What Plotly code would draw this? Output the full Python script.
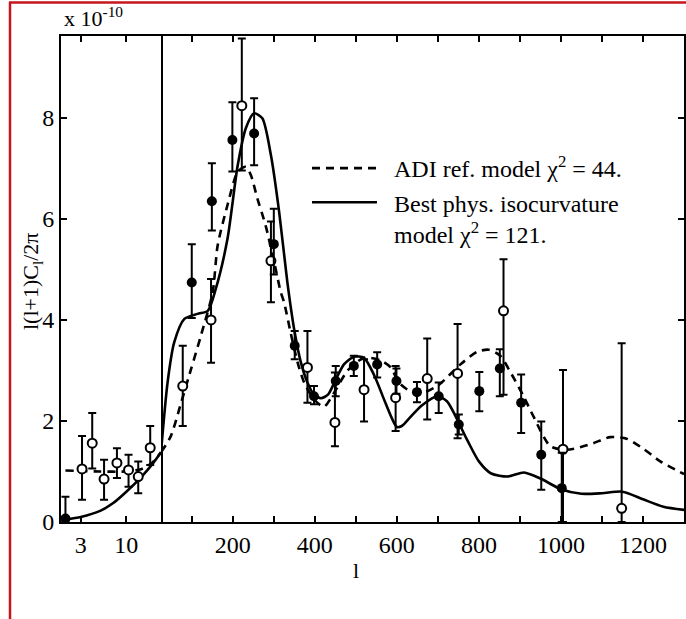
import plotly.graph_objects as go

# ---------------- data ----------------
BREAK_L = 25  # split between logarithmic and linear l axis

# best physical isocurvature model (solid)
SOLID_L = [2, 3, 5, 7, 10, 15, 20, 25, 41, 57, 82, 114, 139, 158, 187, 212, 232, 252,
           272, 293, 313, 333, 351, 366, 382, 398, 415, 432, 450, 471, 495, 520, 545, 570,
           588, 600, 612, 630, 660, 698, 722, 771, 800, 830, 870, 910, 950, 1000, 1050,
           1100, 1150, 1200, 1250, 1300]
SOLID_V = [0.05, 0.1, 0.22, 0.37, 0.6, 0.9, 1.15, 1.38, 2.76, 3.55, 4.02, 4.12, 4.18,
           4.6, 5.6, 7.06, 7.8, 8.09, 7.99, 7.26, 6.14, 4.75, 3.75, 3.16, 2.76, 2.52,
           2.45, 2.52, 2.8, 3.12, 3.27, 3.25, 2.9, 2.4, 2.05, 1.88, 1.9, 2.05, 2.3, 2.49,
           2.39, 1.63, 1.2, 0.96, 0.9, 0.98, 0.86, 0.65, 0.56, 0.57, 0.6, 0.45, 0.3, 0.24]

# adiabatic reference model (dashed)
DASH_L = [2, 5, 10, 15, 20, 25, 49, 74, 98, 122, 151, 163, 187, 212, 232, 244, 260, 280,
          301, 317, 325, 341, 358, 374, 398, 422, 450, 480, 520, 560, 585, 605, 630, 660,
          700, 755, 796, 824, 852, 880, 909, 933, 974, 1014, 1047, 1079, 1120, 1160,
          1201, 1242, 1300]
DASH_V = [1.02, 1.0, 1.0, 1.05, 1.18, 1.38, 1.7, 2.36, 3.02, 3.68, 4.55, 5.47, 6.27, 6.93,
          7.03, 6.87, 6.4, 5.87, 5.14, 4.55, 4.35, 3.75, 3.16, 2.76, 2.43, 2.28, 2.6, 3.0,
          3.25, 3.2, 3.06, 2.76, 2.6, 2.55, 2.7, 3.12, 3.37, 3.41, 3.29, 2.92, 2.49, 2.09,
          1.5, 1.43, 1.48, 1.56, 1.68, 1.65, 1.45, 1.2, 0.95]

# measurements, filled symbols
FILLED_L = [2, 100, 149, 199, 252, 300, 351, 398, 451, 495, 552, 599, 649, 702, 751, 801,
            851, 903, 952, 1002]
FILLED_V = [0.07, 4.74, 6.35, 7.56, 7.69, 5.5, 3.49, 2.49, 2.79, 3.09, 3.12, 2.79, 2.57,
            2.49, 1.93, 2.59, 3.04, 2.36, 1.33, 0.67]
FILLED_EP = [0.43, 0.76, 0.75, 0.75, 0.7, 0.7, 0.29, 0.2, 0.3, 0.2, 0.24, 0.25, 0.2,
             0.27, 0.2, 0.38, 0.38, 0.56, 0.66, 0.7]
FILLED_EM = [0.07, 0.7, 0.58, 0.62, 0.63, 0.6, 0.27, 0.16, 0.3, 0.2, 0.26, 0.25, 0.2,
             0.33, 0.2, 0.4, 0.55, 0.6, 0.69, 0.67]

# measurements, open symbols
OPEN_L = [3.1, 4.06, 5.55, 7.8, 10.6, 13.7, 18.8, 78, 147, 222, 293, 382, 449, 520, 597,
          674, 748, 860, 1005, 1148]
OPEN_V = [1.05, 1.56, 0.85, 1.17, 1.03, 0.9, 1.47, 2.69, 4.0, 8.24, 5.17, 3.06, 1.97,
          2.62, 2.46, 2.84, 2.94, 4.18, 1.44, 0.27]
OPEN_EP = [0.65, 0.6, 0.38, 0.29, 0.3, 0.3, 0.43, 0.8, 0.81, 1.33, 0.78, 0.72, 0.99, 0.6,
           0.63, 0.79, 0.98, 1.02, 1.57, 3.27]
OPEN_EM = [0.61, 0.5, 0.41, 0.3, 0.33, 0.33, 0.34, 0.79, 0.85, 1.28, 0.82, 0.7, 0.47,
           0.63, 0.66, 0.81, 1.28, 1.66, 1.44, 0.27]

Y_TICKS = [0, 2, 4, 6, 8]
LOG_TICKS = [3, 10]
LIN_TICKS = [200, 400, 600, 800, 1000, 1200]
LIN_MINOR_STEP = 100

LEGEND_ADI = "ADI ref. model χ<sup>2</sup> = 44."
LEGEND_ISO = ["Best phys. isocurvature", "model χ<sup>2</sup> = 121."]

FONT = "Liberation Serif"
PAD = "\u00a0\u00a0"


def split(ls, *cols, low=True):
    idx = [i for i, l in enumerate(ls) if (l <= BREAK_L if low else l >= BREAK_L)]
    return [[ls[i] for i in idx]] + [[c[i] for i in idx] for c in cols]


fig = go.Figure()

# curves
for low in (True, False):
    xa = "x" if low else "x2"
    ya = "y" if low else "y2"
    l, v = split(DASH_L, DASH_V, low=low)
    fig.add_trace(go.Scatter(x=l, y=v, mode="lines", xaxis=xa, yaxis=ya,
                             line=dict(color="black", width=2.6, dash="8px,6px",
                                       shape="spline", smoothing=0.7),
                             name=PAD + LEGEND_ADI, legendgroup="adi",
                             showlegend=not low, legendrank=1))
    l, v = split(SOLID_L, SOLID_V, low=low)
    fig.add_trace(go.Scatter(x=l, y=v, mode="lines", xaxis=xa, yaxis=ya,
                             line=dict(color="black", width=2.6, shape="spline",
                                       smoothing=0.7),
                             name="<br>".join(PAD + s for s in LEGEND_ISO),
                             legendgroup="iso", showlegend=not low, legendrank=2))

# data points
for low in (True, False):
    xa = "x" if low else "x2"
    ya = "y" if low else "y2"
    l, v, ep, em = split(OPEN_L, OPEN_V, OPEN_EP, OPEN_EM, low=low)
    fig.add_trace(go.Scatter(x=l, y=v, mode="markers", xaxis=xa, yaxis=ya, showlegend=False,
                             marker=dict(symbol="circle", size=9, color="white",
                                         line=dict(color="black", width=2)),
                             error_y=dict(type="data", array=ep, arrayminus=em,
                                          color="black", thickness=2, width=4)))
    l, v, ep, em = split(FILLED_L, FILLED_V, FILLED_EP, FILLED_EM, low=low)
    fig.add_trace(go.Scatter(x=l, y=v, mode="markers", xaxis=xa, yaxis=ya, showlegend=False,
                             marker=dict(symbol="circle", size=10, color="black"),
                             error_y=dict(type="data", array=ep, arrayminus=em,
                                          color="black", thickness=2, width=4)))

W, H = 686, 619
ML, MR, MT, MB = 61, 2, 36, 97
PW, PH = W - ML - MR, H - MT - MB
D1 = (161 - ML) / PW


def px_x(px):
    return (px - ML) / PW


def px_y(py):
    return (H - MB - py) / PH


axis_common = dict(showline=True, linecolor="black", linewidth=2, ticks="inside",
                   ticklen=6, tickwidth=2, tickcolor="black", showgrid=False,
                   zeroline=False, tickfont=dict(family=FONT, size=24, color="black"))

fig.update_layout(
    width=W, height=H,
    margin=dict(l=ML, r=MR, t=MT, b=MB),
    paper_bgcolor="white", plot_bgcolor="white",
    font=dict(family=FONT, size=22, color="black"),
    xaxis=dict(type="log", range=[0.25, 1.39794], domain=[0, D1], anchor="y",
               tickvals=LOG_TICKS, ticktext=[str(t) for t in LOG_TICKS], mirror="ticks",
               **axis_common),
    xaxis2=dict(range=[BREAK_L, 1300], domain=[D1, 1], anchor="y",
                tickvals=LIN_TICKS, ticktext=[str(t) for t in LIN_TICKS], mirror="ticks",
                minor=dict(tick0=0, dtick=LIN_MINOR_STEP, ticks="inside", ticklen=6,
                           tickwidth=2, tickcolor="black", showgrid=False),
                **axis_common),
    yaxis=dict(range=[0, 9.62], anchor="x", tickvals=Y_TICKS,
               ticktext=[str(t) for t in Y_TICKS], mirror=True, **axis_common),
    yaxis2=dict(range=[0, 9.62], anchor="x2", overlaying="y", side="right",
                tickvals=Y_TICKS, showticklabels=False, **axis_common),
    legend=dict(x=px_x(307), y=px_y(146), xanchor="left", yanchor="top",
                bgcolor="rgba(0,0,0,0)", font=dict(family=FONT, size=24, color="black"),
                itemwidth=65, valign="top", tracegroupgap=0),
    showlegend=True,
)

fig.add_annotation(text="l(l+1)C<sub>l</sub>/2π", xref="paper", yref="paper",
                   x=px_x(32), y=px_y(282), textangle=-90, showarrow=False,
                   xanchor="center", yanchor="middle", font=dict(family=FONT, size=22))
fig.add_annotation(text="l", xref="paper", yref="paper", x=px_x(356), y=px_y(570),
                   showarrow=False, xanchor="center", yanchor="middle",
                   font=dict(family=FONT, size=22))
fig.add_annotation(text="x 10<sup>-10</sup>", xref="paper", yref="paper", x=px_x(62),
                   y=px_y(33), showarrow=False, xanchor="left", yanchor="bottom",
                   font=dict(family=FONT, size=22))

# red frame of the picture (left and top edges)
fig.add_shape(type="line", xref="paper", yref="paper", x0=px_x(10), x1=px_x(10),
              y0=px_y(619), y1=px_y(2), line=dict(color="#c4161c", width=2.5))
fig.add_shape(type="line", xref="paper", yref="paper", x0=px_x(9), x1=px_x(686),
              y0=px_y(2.5), y1=px_y(2.5), line=dict(color="#c4161c", width=2.5))

fig.write_html("out.html")
